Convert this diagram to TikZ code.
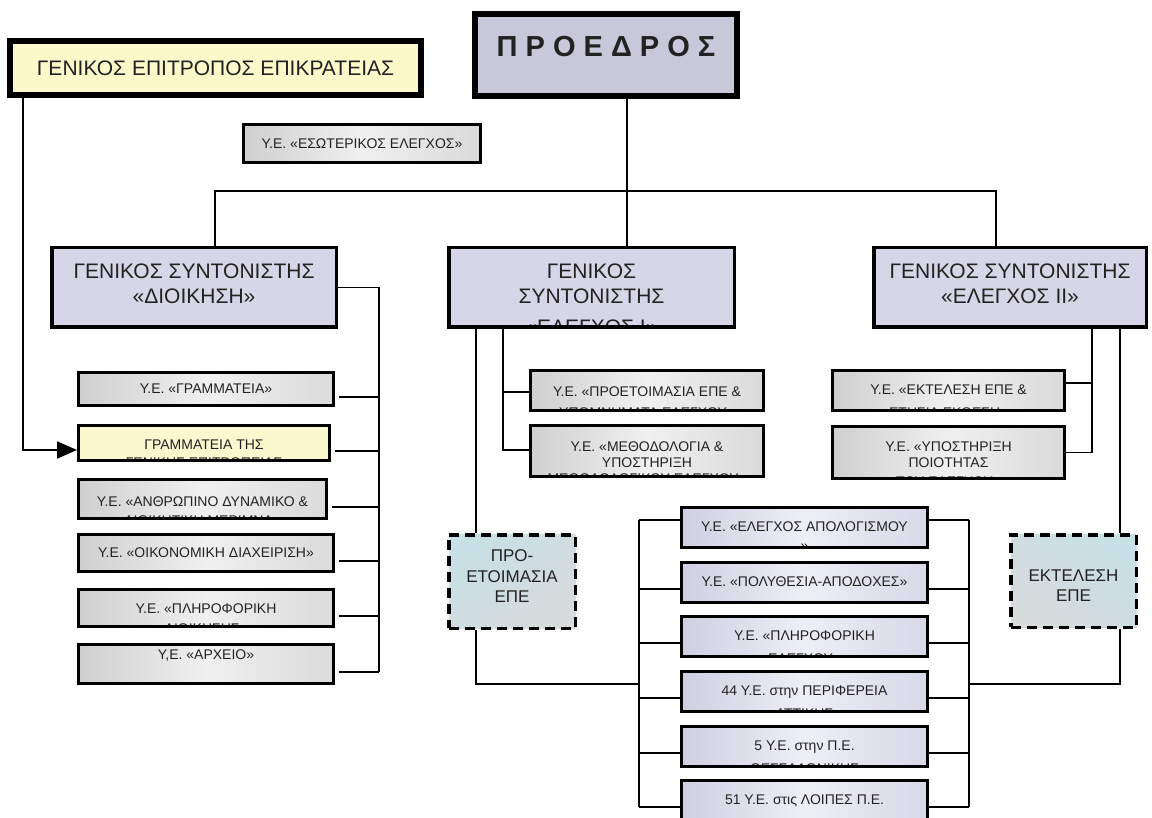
\documentclass[tikz,border=0pt]{standalone}
\usepackage{fontspec}
\setmainfont{Liberation Sans}
\usetikzlibrary{arrows.meta,calc,shadings}

\definecolor{tinta}{HTML}{222222}
\definecolor{kitrino}{HTML}{FBF9CA}
\definecolor{kitrinoB}{HTML}{FAF8CE}
\definecolor{presfill}{HTML}{C8C8DA}
\definecolor{lila}{HTML}{D6D6E8}
\definecolor{grisL}{HTML}{CFCFCF}
\definecolor{grisM}{HTML}{F0F0F0}
\definecolor{grisR}{HTML}{DADADA}
\definecolor{lilaL}{HTML}{CFCFE2}
\definecolor{lilaM}{HTML}{EEEEF5}
\definecolor{lilaR}{HTML}{D8D8E8}
\definecolor{ble}{HTML}{C4E1E7}
\definecolor{bleg}{HTML}{CFDDE1}
\definecolor{grisD}{HTML}{DADADA}

\begin{document}
\begin{tikzpicture}[x=1pt, y=-1pt, >={Triangle[length=20pt,width=17pt]},
  every node/.style={text=tinta},
  big/.style={draw, line width=6pt},
  synt/.style={draw, line width=3.5pt, fill=lila, font=\fontsize{21}{25}\selectfont},
  ye/.style={draw, line width=3pt, left color=grisL, right color=grisR, middle color=grisM, font=\fontsize{14}{16}\selectfont},
  yeb/.style={ye, left color=lilaL, right color=lilaR, middle color=lilaM},
  yek/.style={ye, left color=kitrinoB, right color=kitrinoB, middle color=kitrinoB},
  epe/.style={draw, line width=3.5pt, dash pattern=on 10pt off 6pt, font=\fontsize{17}{20.5}\selectfont},
  con/.style={line width=1.8pt},
  tx/.style={draw=none, inner sep=0pt, minimum width=0pt, minimum height=0pt, align=center, anchor=north},
  lbl/.style n args={3}{path picture={\node[tx] (#1) at ([yshift=-#2]path picture bounding box.north) {#3};}}]
\useasboundingbox (0,0) rectangle (1152,818);

% top
\node[big, fill=kitrino, minimum width=411pt, minimum height=54pt, font=\fontsize{21}{25}\selectfont] (gep) at (215.5,68) {ΓΕΝΙΚΟΣ ΕΠΙΤΡΟΠΟΣ ΕΠΙΚΡΑΤΕΙΑΣ};
\node[big, fill=presfill, minimum width=262pt, minimum height=82pt, font=\fontsize{29}{33}\selectfont\bfseries, lbl={presT}{19pt}{Π Ρ Ο Ε Δ Ρ Ο Σ}] (pres) at (606,55) {};
\node[ye, minimum width=237pt, minimum height=38pt] (esw) at (362,143.5) {Υ.Ε. «ΕΣΩΤΕΡΙΚΟΣ ΕΛΕΓΧΟΣ»};

% general coordinators
\node[synt, minimum width=284.5pt, minimum height=79.5pt, lbl={dioikT}{14.25pt}{ΓΕΝΙΚΟΣ ΣΥΝΤΟΝΙΣΤΗΣ\\«ΔΙΟΙΚΗΣΗ»}] (dioik) at (194,287.5) {};
\node[synt, minimum width=285.5pt, minimum height=79.5pt, lbl={el1T}{14.25pt}{ΓΕΝΙΚΟΣ\\ΣΥΝΤΟΝΙΣΤΗΣ\\[6pt]«ΕΛΕΓΧΟΣ Ι»}] (el1) at (591.5,287.5) {};
\node[synt, minimum width=272.5pt, minimum height=79.5pt, lbl={el2T}{14.25pt}{ΓΕΝΙΚΟΣ ΣΥΝΤΟΝΙΣΤΗΣ\\«ΕΛΕΓΧΟΣ ΙΙ»}] (el2) at (1010,287.5) {};

% left column
\node[ye, minimum width=255pt, minimum height=33pt] (u1) at (206,389) {Υ.Ε. «ΓΡΑΜΜΑΤΕΙΑ»};
\node[yek, minimum width=251pt, minimum height=35pt, lbl={u2T}{12.5pt}{ΓΡΑΜΜΑΤΕΙΑ ΤΗΣ\\[2pt]ΓΕΝΙΚΗΣ ΕΠΙΤΡΟΠΕΙΑΣ}] (u2) at (204,443) {};
\node[ye, minimum width=248pt, minimum height=39pt, lbl={u3T}{15.5pt}{Υ.Ε. «ΑΝΘΡΩΠΙΝΟ ΔΥΝΑΜΙΚΟ \&\\[3pt]ΔΙΟΙΚΗΤΙΚΗ ΜΕΡΙΜΝΑ»}] (u3) at (202.5,499) {};
\node[ye, minimum width=255pt, minimum height=37pt] (u4) at (206,553) {Υ.Ε. «ΟΙΚΟΝΟΜΙΚΗ ΔΙΑΧΕΙΡΙΣΗ»};
\node[ye, minimum width=255pt, minimum height=37pt, lbl={u5T}{12.5pt}{Υ.Ε. «ΠΛΗΡΟΦΟΡΙΚΗ\\[4pt]ΔΙΟΙΚΗΣΗΣ»}] (u5) at (206,608) {};
\node[ye, minimum width=255pt, minimum height=39pt, lbl={u6T}{3.5pt}{Υ,Ε. «ΑΡΧΕΙΟ»}] (u6) at (206,664) {};

% audit I
\node[ye, minimum width=233pt, minimum height=40pt, lbl={m1T}{14.5pt}{Υ.Ε. «ΠΡΟΕΤΟΙΜΑΣΙΑ ΕΠΕ \&\\[5pt]ΥΠΟΜΝΗΜΑΤΑ ΕΛΕΓΧΟΥ»}] (m1) at (647,390.5) {};
\node[ye, minimum width=233pt, minimum height=51pt, lbl={m2T}{14.5pt}{Υ.Ε. «ΜΕΘΟΔΟΛΟΓΙΑ \&\\ΥΠΟΣΤΗΡΙΞΗ\\ΜΕΘΟΔΟΛΟΓΙΚΟΥ ΕΛΕΓΧΟΥ»}] (m2) at (647,451) {};
\node[epe, upper left=ble, upper right=bleg, lower left=bleg, lower right=grisD, minimum width=126.5pt, minimum height=93.5pt, lbl={peT}{13.25pt}{ΠΡΟ-\\ΕΤΟΙΜΑΣΙΑ\\ΕΠΕ}] (pe) at (512,581.5) {};

% audit II
\node[ye, minimum width=232pt, minimum height=40pt, lbl={r1T}{12.5pt}{Υ.Ε. «ΕΚΤΕΛΕΣΗ ΕΠΕ \&\\[7pt]ΕΤΗΣΙΑ ΕΚΘΕΣΗ»}] (r1) at (948.5,390.5) {};
\node[ye, minimum width=232pt, minimum height=52pt, lbl={r2T}{13.5pt}{Υ.Ε. «ΥΠΟΣΤΗΡΙΞΗ\\ΠΟΙΟΤΗΤΑΣ\\[3pt]ΤΟΥ ΕΛΕΓΧΟΥ»}] (r2) at (948.5,452.5) {};
\node[epe, upper left=bleg, upper right=ble, lower left=grisD, lower right=bleg, minimum width=125.5pt, minimum height=92.5pt, lbl={eeT}{33.25pt}{ΕΚΤΕΛΕΣΗ\\ΕΠΕ}] (ee) at (1073.5,581) {};

% bottom units
\node[yeb, minimum width=246pt, minimum height=40pt, lbl={b1T}{12.5pt}{Υ.Ε. «ΕΛΕΓΧΟΣ ΑΠΟΛΟΓΙΣΜΟΥ\\[3pt]»}] (b1) at (804.5,527.5) {};
\node[yeb, minimum width=246pt, minimum height=40pt, lbl={b2T}{12.5pt}{Υ.Ε. «ΠΟΛΥΘΕΣΙΑ-ΑΠΟΔΟΧΕΣ»}] (b2) at (804.5,582.5) {};
\node[yeb, minimum width=246pt, minimum height=40pt, lbl={b3T}{12.5pt}{Υ.Ε. «ΠΛΗΡΟΦΟΡΙΚΗ\\[7pt]ΕΛΕΓΧΟΥ»}] (b3) at (804.5,636.5) {};
\node[yeb, minimum width=246pt, minimum height=40pt, lbl={b4T}{12.5pt}{44 Υ.Ε. στην ΠΕΡΙΦΕΡΕΙΑ\\[7pt]ΑΤΤΙΚΗΣ}] (b4) at (804.5,691.5) {};
\node[yeb, minimum width=246pt, minimum height=40pt, lbl={b5T}{12.5pt}{5 Υ.Ε. στην Π.Ε.\\[7pt]ΘΕΣΣΑΛΟΝΙΚΗΣ}] (b5) at (804.5,746.5) {};
\node[yeb, minimum width=246pt, minimum height=40pt, lbl={b6T}{12.5pt}{51 Υ.Ε. στις ΛΟΙΠΕΣ Π.Ε.}] (b6) at (804.5,800.5) {};

% connectors
\coordinate (gx) at (23,0);
\draw[con,->] (gep.south -| gx) |- ($(u2.west)+(0,7)$);
\coordinate (px) at (627,191);
\draw[con] (pres.south -| px) -- (el1.north -| px);
\coordinate (bl) at (215,191);
\coordinate (br) at (996,191);
\draw[con] (bl |- dioik.north) -- (bl) -- (br) -- (br |- el2.north);

\coordinate (lb) at (379,0);
\draw[con] (dioik.east) -| ($(u6.east -| lb)+(0,8)$);
\foreach \ux in {u1,u2,u3,u4,u5,u6}
  \draw[con] ($(\ux.east)+(4,8)$) -- ($(\ux.east -| lb)+(0,8)$);

\coordinate (ma) at (476,0);
\coordinate (mb) at (503,0);
\draw[con] (el1.south -| ma) -- (pe.north -| ma);
\draw[con] (el1.south -| mb) |- ($(m2.west)+(0,-1)$);
\draw[con] ($(m1.west -| mb)+(0,1.5)$) -- ($(m1.west)+(0,1.5)$);

\coordinate (ra) at (1092,0);
\coordinate (rb) at (1120,0);
\draw[con] (el2.south -| ra) |- (r2.east);
\draw[con] ($(r1.east -| ra)+(0,-7.5)$) -- ($(r1.east)+(0,-7.5)$);
\draw[con] (el2.south -| rb) -- (ee.north -| rb);

\coordinate (ba) at (639,684);
\coordinate (bb) at (969,684);
\draw[con] (pe.south -| ma) |- (ba);
\draw[con] (ee.south -| rb) |- (bb);
\draw[con] ($(b1.west -| ba)+(0,-7.5)$) -- ($(b6.west -| ba)+(0,6.5)$);
\draw[con] ($(b1.east -| bb)+(0,-7.5)$) -- ($(b6.east -| bb)+(0,6.5)$);
\foreach \bx/\dy in {b1/-7.5,b2/6.5,b3/6.5,b4/6.5,b5/6.5,b6/6.5} {
  \draw[con] ($(\bx.west)+(0,\dy)$) -- ($(\bx.west -| ba)+(0,\dy)$);
  \draw[con] ($(\bx.east)+(0,\dy)$) -- ($(\bx.east -| bb)+(0,\dy)$);
}
\end{tikzpicture}
\end{document}
